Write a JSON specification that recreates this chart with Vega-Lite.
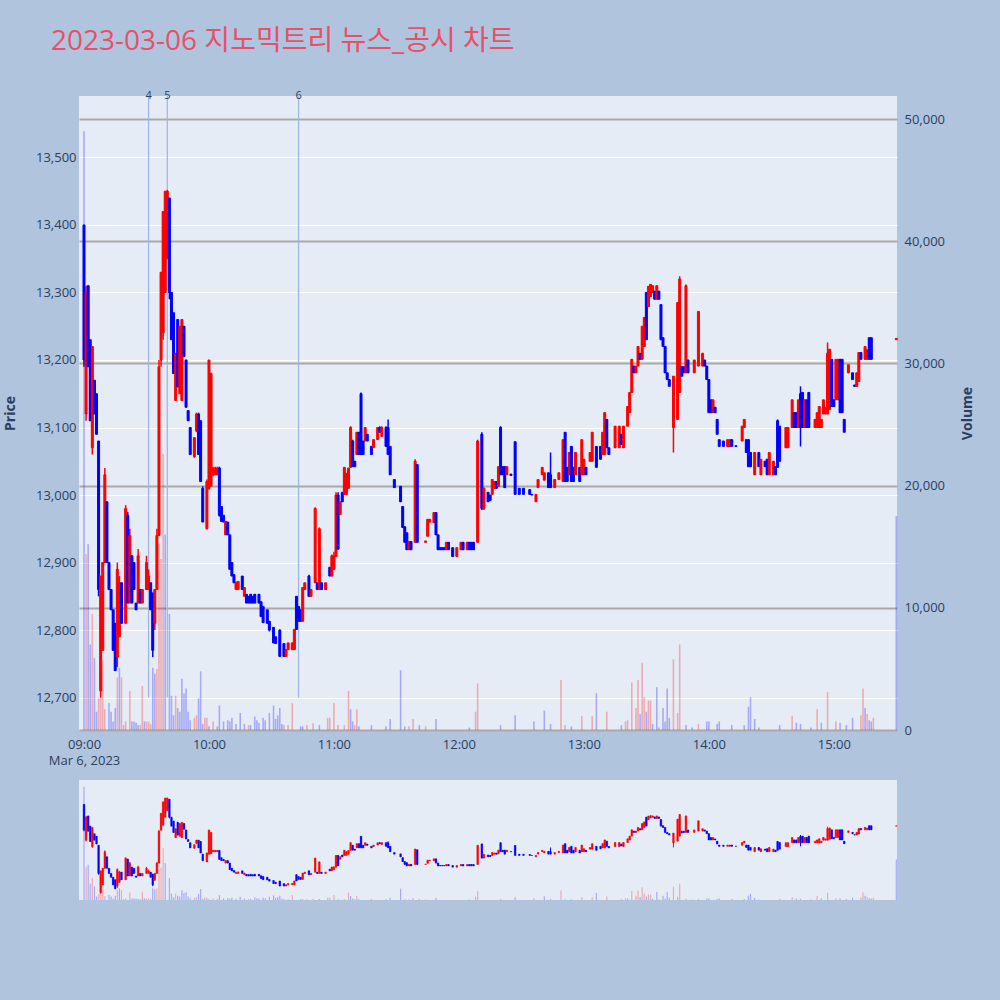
{
"$schema":"https://vega.github.io/schema/vega-lite/v6.json",
"background":"#B0C4DE",
"padding":{"left":3,"top":28,"right":26,"bottom":100},
"bounds":"flush",
"spacing":50,
"title":{"text":"2023-03-06 지노믹트리 뉴스_공시 차트","anchor":"start","frame":"group","fontSize":28,"font":"Open Sans, Noto Sans CJK KR","fontWeight":"normal","color":"#E6516A","dx":-28,"offset":34},
"config":{"view":{"stroke":null,"fill":"#E5ECF6"},"scale":{"continuousPadding":0},"font":"Open Sans, Noto Sans CJK KR","axis":{"labelColor":"#2a3f5f","titleColor":"#2a3f5f","labelFont":"Open Sans","titleFont":"Open Sans","domain":false,"ticks":false}},
"datasets":{
"events":[{"t":"2023-03-06T09:31:00","label":"4"},{"t":"2023-03-06T09:40:00","label":"5"},{"t":"2023-03-06T10:43:00","label":"6"}],
"candles":[
{"t":"2023-03-06 09:00","o":13400,"h":13400,"l":13190,"c":13200},
{"t":"2023-03-06 09:01","o":13120,"h":13310,"l":13110,"c":13300},
{"t":"2023-03-06 09:02","o":13310,"h":13310,"l":13190,"c":13190},
{"t":"2023-03-06 09:03","o":13230,"h":13230,"l":13110,"c":13110},
{"t":"2023-03-06 09:04","o":13070,"h":13220,"l":13060,"c":13220},
{"t":"2023-03-06 09:05","o":13170,"h":13170,"l":13120,"c":13120},
{"t":"2023-03-06 09:06","o":13150,"h":13150,"l":13090,"c":13090},
{"t":"2023-03-06 09:07","o":13080,"h":13080,"l":12850,"c":12860},
{"t":"2023-03-06 09:08","o":12710,"h":12880,"l":12700,"c":12880},
{"t":"2023-03-06 09:09","o":12770,"h":12900,"l":12770,"c":12900},
{"t":"2023-03-06 09:10","o":12900,"h":13040,"l":12900,"c":13030},
{"t":"2023-03-06 09:11","o":12990,"h":12990,"l":12900,"c":12900},
{"t":"2023-03-06 09:12","o":12900,"h":12900,"l":12860,"c":12860},
{"t":"2023-03-06 09:13","o":12860,"h":12860,"l":12830,"c":12830},
{"t":"2023-03-06 09:14","o":12830,"h":12830,"l":12770,"c":12770},
{"t":"2023-03-06 09:15","o":12810,"h":12810,"l":12740,"c":12740},
{"t":"2023-03-06 09:16","o":12760,"h":12900,"l":12745,"c":12890},
{"t":"2023-03-06 09:17","o":12790,"h":12880,"l":12790,"c":12870},
{"t":"2023-03-06 09:18","o":12870,"h":12870,"l":12810,"c":12810},
{"t":"2023-03-06 09:20","o":12810,"h":12985,"l":12810,"c":12980},
{"t":"2023-03-06 09:21","o":12970,"h":12975,"l":12840,"c":12840},
{"t":"2023-03-06 09:22","o":12840,"h":12950,"l":12840,"c":12940},
{"t":"2023-03-06 09:23","o":12910,"h":12910,"l":12840,"c":12840},
{"t":"2023-03-06 09:24","o":12900,"h":12900,"l":12860,"c":12860},
{"t":"2023-03-06 09:25","o":12840,"h":12840,"l":12830,"c":12830},
{"t":"2023-03-06 09:26","o":12840,"h":12920,"l":12840,"c":12910},
{"t":"2023-03-06 09:27","o":12860,"h":12860,"l":12840,"c":12840},
{"t":"2023-03-06 09:28","o":12840,"h":12860,"l":12840,"c":12860},
{"t":"2023-03-06 09:30","o":12860,"h":12910,"l":12860,"c":12900},
{"t":"2023-03-06 09:31","o":12860,"h":12890,"l":12860,"c":12880},
{"t":"2023-03-06 09:32","o":12870,"h":12870,"l":12830,"c":12830},
{"t":"2023-03-06 09:33","o":12855,"h":12855,"l":12760,"c":12770},
{"t":"2023-03-06 09:34","o":12810,"h":12860,"l":12800,"c":12860},
{"t":"2023-03-06 09:35","o":12860,"h":12950,"l":12860,"c":12940},
{"t":"2023-03-06 09:36","o":12940,"h":13200,"l":12940,"c":13190},
{"t":"2023-03-06 09:37","o":13200,"h":13330,"l":13190,"c":13330},
{"t":"2023-03-06 09:38","o":13240,"h":13420,"l":13230,"c":13420},
{"t":"2023-03-06 09:39","o":13300,"h":13450,"l":13300,"c":13450},
{"t":"2023-03-06 09:40","o":13350,"h":13452,"l":13350,"c":13450},
{"t":"2023-03-06 09:41","o":13440,"h":13440,"l":13290,"c":13300},
{"t":"2023-03-06 09:42","o":13300,"h":13300,"l":13230,"c":13230},
{"t":"2023-03-06 09:43","o":13270,"h":13270,"l":13180,"c":13180},
{"t":"2023-03-06 09:44","o":13140,"h":13210,"l":13140,"c":13210},
{"t":"2023-03-06 09:45","o":13260,"h":13260,"l":13160,"c":13160},
{"t":"2023-03-06 09:46","o":13150,"h":13250,"l":13150,"c":13250},
{"t":"2023-03-06 09:47","o":13140,"h":13260,"l":13140,"c":13260},
{"t":"2023-03-06 09:48","o":13250,"h":13250,"l":13205,"c":13205},
{"t":"2023-03-06 09:49","o":13200,"h":13200,"l":13130,"c":13130},
{"t":"2023-03-06 09:50","o":13125,"h":13125,"l":13110,"c":13110},
{"t":"2023-03-06 09:51","o":13100,"h":13100,"l":13060,"c":13060},
{"t":"2023-03-06 09:53","o":13057,"h":13085,"l":13055,"c":13085},
{"t":"2023-03-06 09:54","o":13095,"h":13122,"l":13093,"c":13120},
{"t":"2023-03-06 09:55","o":13120,"h":13122,"l":13060,"c":13060},
{"t":"2023-03-06 09:56","o":13110,"h":13110,"l":13020,"c":13020},
{"t":"2023-03-06 09:57","o":13010,"h":13013,"l":12960,"c":12960},
{"t":"2023-03-06 09:59","o":12950,"h":13023,"l":12949,"c":13020},
{"t":"2023-03-06 10:00","o":13010,"h":13200,"l":13008,"c":13200},
{"t":"2023-03-06 10:01","o":13013,"h":13181,"l":13013,"c":13180},
{"t":"2023-03-06 10:02","o":13030,"h":13042,"l":13028,"c":13040},
{"t":"2023-03-06 10:03","o":13030,"h":13042,"l":13030,"c":13040},
{"t":"2023-03-06 10:04","o":13030,"h":13042,"l":13030,"c":13040},
{"t":"2023-03-06 10:05","o":13040,"h":13042,"l":12968,"c":12970},
{"t":"2023-03-06 10:06","o":12983,"h":12983,"l":12961,"c":12961},
{"t":"2023-03-06 10:07","o":12970,"h":12970,"l":12960,"c":12960},
{"t":"2023-03-06 10:08","o":12941,"h":12961,"l":12941,"c":12961},
{"t":"2023-03-06 10:09","o":12960,"h":12960,"l":12941,"c":12941},
{"t":"2023-03-06 10:10","o":12941,"h":12941,"l":12890,"c":12890},
{"t":"2023-03-06 10:11","o":12900,"h":12900,"l":12880,"c":12880},
{"t":"2023-03-06 10:12","o":12882,"h":12882,"l":12870,"c":12870},
{"t":"2023-03-06 10:13","o":12860,"h":12872,"l":12860,"c":12870},
{"t":"2023-03-06 10:14","o":12860,"h":12872,"l":12860,"c":12872},
{"t":"2023-03-06 10:16","o":12880,"h":12880,"l":12860,"c":12860},
{"t":"2023-03-06 10:17","o":12850,"h":12863,"l":12850,"c":12863},
{"t":"2023-03-06 10:18","o":12853,"h":12853,"l":12840,"c":12840},
{"t":"2023-03-06 10:19","o":12850,"h":12850,"l":12840,"c":12840},
{"t":"2023-03-06 10:20","o":12853,"h":12853,"l":12840,"c":12840},
{"t":"2023-03-06 10:21","o":12850,"h":12850,"l":12840,"c":12840},
{"t":"2023-03-06 10:22","o":12853,"h":12853,"l":12840,"c":12840},
{"t":"2023-03-06 10:24","o":12853,"h":12853,"l":12840,"c":12840},
{"t":"2023-03-06 10:25","o":12842,"h":12842,"l":12820,"c":12820},
{"t":"2023-03-06 10:26","o":12835,"h":12835,"l":12811,"c":12811},
{"t":"2023-03-06 10:28","o":12830,"h":12830,"l":12810,"c":12810},
{"t":"2023-03-06 10:29","o":12813,"h":12813,"l":12798,"c":12800},
{"t":"2023-03-06 10:31","o":12804,"h":12804,"l":12781,"c":12781},
{"t":"2023-03-06 10:32","o":12790,"h":12790,"l":12780,"c":12780},
{"t":"2023-03-06 10:34","o":12800,"h":12801,"l":12761,"c":12761},
{"t":"2023-03-06 10:36","o":12780,"h":12780,"l":12761,"c":12761},
{"t":"2023-03-06 10:37","o":12761,"h":12771,"l":12761,"c":12771},
{"t":"2023-03-06 10:38","o":12771,"h":12781,"l":12771,"c":12781},
{"t":"2023-03-06 10:40","o":12771,"h":12781,"l":12771,"c":12781},
{"t":"2023-03-06 10:41","o":12771,"h":12801,"l":12771,"c":12801},
{"t":"2023-03-06 10:42","o":12850,"h":12850,"l":12801,"c":12801},
{"t":"2023-03-06 10:43","o":12835,"h":12835,"l":12813,"c":12813},
{"t":"2023-03-06 10:44","o":12830,"h":12830,"l":12813,"c":12813},
{"t":"2023-03-06 10:45","o":12813,"h":12863,"l":12813,"c":12863},
{"t":"2023-03-06 10:46","o":12860,"h":12870,"l":12860,"c":12870},
{"t":"2023-03-06 10:48","o":12880,"h":12882,"l":12850,"c":12850},
{"t":"2023-03-06 10:49","o":12850,"h":12860,"l":12850,"c":12860},
{"t":"2023-03-06 10:51","o":12870,"h":12982,"l":12870,"c":12980},
{"t":"2023-03-06 10:52","o":12870,"h":12870,"l":12860,"c":12860},
{"t":"2023-03-06 10:53","o":12860,"h":12952,"l":12860,"c":12950},
{"t":"2023-03-06 10:54","o":12870,"h":12870,"l":12860,"c":12860},
{"t":"2023-03-06 10:56","o":12860,"h":12870,"l":12860,"c":12870},
{"t":"2023-03-06 10:58","o":12893,"h":12893,"l":12880,"c":12880},
{"t":"2023-03-06 10:59","o":12880,"h":12912,"l":12880,"c":12910},
{"t":"2023-03-06 11:00","o":12890,"h":12916,"l":12890,"c":12910},
{"t":"2023-03-06 11:01","o":12909,"h":13004,"l":12909,"c":13000},
{"t":"2023-03-06 11:02","o":13000,"h":13004,"l":12919,"c":12920},
{"t":"2023-03-06 11:03","o":12971,"h":12990,"l":12971,"c":12990},
{"t":"2023-03-06 11:04","o":13004,"h":13004,"l":12990,"c":12990},
{"t":"2023-03-06 11:05","o":13001,"h":13041,"l":13001,"c":13041},
{"t":"2023-03-06 11:06","o":13001,"h":13033,"l":13001,"c":13030},
{"t":"2023-03-06 11:07","o":13010,"h":13040,"l":13010,"c":13040},
{"t":"2023-03-06 11:08","o":13041,"h":13102,"l":13041,"c":13100},
{"t":"2023-03-06 11:09","o":13080,"h":13082,"l":13042,"c":13042},
{"t":"2023-03-06 11:10","o":13050,"h":13050,"l":13042,"c":13042},
{"t":"2023-03-06 11:11","o":13060,"h":13093,"l":13060,"c":13093},
{"t":"2023-03-06 11:12","o":13093,"h":13093,"l":13060,"c":13060},
{"t":"2023-03-06 11:13","o":13150,"h":13152,"l":13060,"c":13060},
{"t":"2023-03-06 11:14","o":13080,"h":13080,"l":13060,"c":13060},
{"t":"2023-03-06 11:15","o":13080,"h":13100,"l":13080,"c":13100},
{"t":"2023-03-06 11:16","o":13090,"h":13090,"l":13080,"c":13080},
{"t":"2023-03-06 11:18","o":13072,"h":13072,"l":13060,"c":13060},
{"t":"2023-03-06 11:19","o":13070,"h":13082,"l":13070,"c":13082},
{"t":"2023-03-06 11:21","o":13082,"h":13100,"l":13082,"c":13100},
{"t":"2023-03-06 11:22","o":13100,"h":13102,"l":13093,"c":13093},
{"t":"2023-03-06 11:23","o":13087,"h":13102,"l":13087,"c":13100},
{"t":"2023-03-06 11:25","o":13100,"h":13102,"l":13072,"c":13072},
{"t":"2023-03-06 11:26","o":13100,"h":13112,"l":13060,"c":13060},
{"t":"2023-03-06 11:27","o":13072,"h":13072,"l":13030,"c":13030},
{"t":"2023-03-06 11:29","o":13023,"h":13023,"l":13011,"c":13011},
{"t":"2023-03-06 11:32","o":13013,"h":13013,"l":12990,"c":12990},
{"t":"2023-03-06 11:33","o":12983,"h":12983,"l":12952,"c":12952},
{"t":"2023-03-06 11:34","o":12953,"h":12953,"l":12930,"c":12930},
{"t":"2023-03-06 11:35","o":12944,"h":12944,"l":12919,"c":12919},
{"t":"2023-03-06 11:36","o":12919,"h":12931,"l":12919,"c":12931},
{"t":"2023-03-06 11:37","o":12931,"h":12931,"l":12919,"c":12919},
{"t":"2023-03-06 11:39","o":12930,"h":13053,"l":12930,"c":13050},
{"t":"2023-03-06 11:40","o":13045,"h":13045,"l":12930,"c":12930},
{"t":"2023-03-06 11:44","o":12930,"h":12932,"l":12930,"c":12932},
{"t":"2023-03-06 11:45","o":12939,"h":12964,"l":12939,"c":12964},
{"t":"2023-03-06 11:46","o":12960,"h":12964,"l":12960,"c":12964},
{"t":"2023-03-06 11:48","o":12959,"h":12974,"l":12959,"c":12974},
{"t":"2023-03-06 11:49","o":12974,"h":12974,"l":12941,"c":12941},
{"t":"2023-03-06 11:50","o":12941,"h":12941,"l":12919,"c":12919},
{"t":"2023-03-06 11:51","o":12922,"h":12922,"l":12919,"c":12919},
{"t":"2023-03-06 11:52","o":12922,"h":12922,"l":12919,"c":12919},
{"t":"2023-03-06 11:53","o":12922,"h":12922,"l":12919,"c":12919},
{"t":"2023-03-06 11:54","o":12919,"h":12930,"l":12919,"c":12930},
{"t":"2023-03-06 11:55","o":12930,"h":12930,"l":12919,"c":12919},
{"t":"2023-03-06 11:57","o":12922,"h":12922,"l":12909,"c":12909},
{"t":"2023-03-06 11:59","o":12909,"h":12922,"l":12909,"c":12922},
{"t":"2023-03-06 12:01","o":12919,"h":12930,"l":12919,"c":12930},
{"t":"2023-03-06 12:02","o":12930,"h":12930,"l":12919,"c":12919},
{"t":"2023-03-06 12:04","o":12919,"h":12930,"l":12919,"c":12930},
{"t":"2023-03-06 12:05","o":12930,"h":12930,"l":12919,"c":12919},
{"t":"2023-03-06 12:06","o":12930,"h":12930,"l":12919,"c":12919},
{"t":"2023-03-06 12:07","o":12930,"h":12930,"l":12919,"c":12919},
{"t":"2023-03-06 12:09","o":12930,"h":13082,"l":12930,"c":13080},
{"t":"2023-03-06 12:11","o":13090,"h":13093,"l":12978,"c":12980},
{"t":"2023-03-06 12:12","o":12980,"h":13011,"l":12978,"c":13010},
{"t":"2023-03-06 12:14","o":13004,"h":13004,"l":12990,"c":12990},
{"t":"2023-03-06 12:15","o":13000,"h":13000,"l":12992,"c":12992},
{"t":"2023-03-06 12:16","o":13001,"h":13023,"l":13001,"c":13023},
{"t":"2023-03-06 12:17","o":13010,"h":13020,"l":13010,"c":13020},
{"t":"2023-03-06 12:18","o":13020,"h":13020,"l":13010,"c":13010},
{"t":"2023-03-06 12:19","o":13013,"h":13042,"l":13013,"c":13042},
{"t":"2023-03-06 12:20","o":13100,"h":13102,"l":13030,"c":13030},
{"t":"2023-03-06 12:21","o":13042,"h":13042,"l":13030,"c":13030},
{"t":"2023-03-06 12:22","o":13042,"h":13042,"l":13011,"c":13011},
{"t":"2023-03-06 12:23","o":13030,"h":13042,"l":13030,"c":13042},
{"t":"2023-03-06 12:25","o":13031,"h":13031,"l":13029,"c":13029},
{"t":"2023-03-06 12:27","o":13079,"h":13079,"l":13001,"c":13001},
{"t":"2023-03-06 12:29","o":13010,"h":13010,"l":13001,"c":13001},
{"t":"2023-03-06 12:31","o":13010,"h":13010,"l":13001,"c":13001},
{"t":"2023-03-06 12:34","o":13008,"h":13008,"l":13001,"c":13001},
{"t":"2023-03-06 12:35","o":13001,"h":13001,"l":13000,"c":13000},
{"t":"2023-03-06 12:37","o":12990,"h":13001,"l":12990,"c":13001},
{"t":"2023-03-06 12:38","o":13011,"h":13023,"l":13011,"c":13023},
{"t":"2023-03-06 12:40","o":13030,"h":13041,"l":13030,"c":13041},
{"t":"2023-03-06 12:41","o":13022,"h":13033,"l":13022,"c":13033},
{"t":"2023-03-06 12:43","o":13033,"h":13033,"l":13011,"c":13011},
{"t":"2023-03-06 12:44","o":13030,"h":13063,"l":13011,"c":13011},
{"t":"2023-03-06 12:46","o":13011,"h":13023,"l":13011,"c":13023},
{"t":"2023-03-06 12:48","o":13023,"h":13033,"l":13023,"c":13033},
{"t":"2023-03-06 12:50","o":13020,"h":13082,"l":13020,"c":13082},
{"t":"2023-03-06 12:51","o":13093,"h":13093,"l":13020,"c":13020},
{"t":"2023-03-06 12:52","o":13041,"h":13041,"l":13020,"c":13020},
{"t":"2023-03-06 12:53","o":13030,"h":13063,"l":13030,"c":13063},
{"t":"2023-03-06 12:54","o":13072,"h":13072,"l":13020,"c":13020},
{"t":"2023-03-06 12:55","o":13041,"h":13041,"l":13020,"c":13020},
{"t":"2023-03-06 12:56","o":13030,"h":13063,"l":13030,"c":13063},
{"t":"2023-03-06 12:58","o":13041,"h":13041,"l":13020,"c":13020},
{"t":"2023-03-06 12:59","o":13030,"h":13082,"l":13030,"c":13082},
{"t":"2023-03-06 13:00","o":13030,"h":13053,"l":13030,"c":13053},
{"t":"2023-03-06 13:01","o":13041,"h":13041,"l":13030,"c":13030},
{"t":"2023-03-06 13:03","o":13050,"h":13063,"l":13050,"c":13063},
{"t":"2023-03-06 13:04","o":13050,"h":13093,"l":13050,"c":13093},
{"t":"2023-03-06 13:06","o":13072,"h":13072,"l":13041,"c":13041},
{"t":"2023-03-06 13:08","o":13072,"h":13072,"l":13053,"c":13053},
{"t":"2023-03-06 13:09","o":13060,"h":13093,"l":13060,"c":13093},
{"t":"2023-03-06 13:10","o":13060,"h":13122,"l":13060,"c":13122},
{"t":"2023-03-06 13:11","o":13112,"h":13112,"l":13070,"c":13070},
{"t":"2023-03-06 13:12","o":13070,"h":13070,"l":13060,"c":13060},
{"t":"2023-03-06 13:15","o":13070,"h":13102,"l":13070,"c":13102},
{"t":"2023-03-06 13:17","o":13070,"h":13102,"l":13070,"c":13102},
{"t":"2023-03-06 13:18","o":13090,"h":13090,"l":13075,"c":13075},
{"t":"2023-03-06 13:19","o":13070,"h":13102,"l":13070,"c":13102},
{"t":"2023-03-06 13:21","o":13102,"h":13131,"l":13102,"c":13131},
{"t":"2023-03-06 13:22","o":13122,"h":13152,"l":13122,"c":13152},
{"t":"2023-03-06 13:23","o":13152,"h":13201,"l":13152,"c":13201},
{"t":"2023-03-06 13:24","o":13191,"h":13191,"l":13181,"c":13181},
{"t":"2023-03-06 13:25","o":13181,"h":13191,"l":13181,"c":13191},
{"t":"2023-03-06 13:26","o":13191,"h":13220,"l":13191,"c":13220},
{"t":"2023-03-06 13:27","o":13210,"h":13210,"l":13201,"c":13201},
{"t":"2023-03-06 13:28","o":13201,"h":13250,"l":13201,"c":13250},
{"t":"2023-03-06 13:29","o":13220,"h":13263,"l":13220,"c":13263},
{"t":"2023-03-06 13:30","o":13300,"h":13300,"l":13230,"c":13230},
{"t":"2023-03-06 13:31","o":13279,"h":13309,"l":13279,"c":13309},
{"t":"2023-03-06 13:32","o":13294,"h":13312,"l":13294,"c":13312},
{"t":"2023-03-06 13:33","o":13300,"h":13310,"l":13300,"c":13310},
{"t":"2023-03-06 13:34","o":13302,"h":13302,"l":13290,"c":13290},
{"t":"2023-03-06 13:35","o":13290,"h":13310,"l":13290,"c":13310},
{"t":"2023-03-06 13:36","o":13302,"h":13302,"l":13290,"c":13290},
{"t":"2023-03-06 13:37","o":13282,"h":13282,"l":13230,"c":13230},
{"t":"2023-03-06 13:38","o":13233,"h":13233,"l":13220,"c":13220},
{"t":"2023-03-06 13:39","o":13220,"h":13220,"l":13181,"c":13181},
{"t":"2023-03-06 13:40","o":13181,"h":13181,"l":13171,"c":13171},
{"t":"2023-03-06 13:41","o":13171,"h":13171,"l":13161,"c":13161},
{"t":"2023-03-06 13:43","o":13100,"h":13176,"l":13063,"c":13176},
{"t":"2023-03-06 13:45","o":13112,"h":13285,"l":13112,"c":13285},
{"t":"2023-03-06 13:46","o":13152,"h":13324,"l":13152,"c":13320},
{"t":"2023-03-06 13:47","o":13190,"h":13190,"l":13176,"c":13176},
{"t":"2023-03-06 13:48","o":13190,"h":13190,"l":13181,"c":13181},
{"t":"2023-03-06 13:49","o":13181,"h":13312,"l":13181,"c":13310},
{"t":"2023-03-06 13:50","o":13200,"h":13200,"l":13181,"c":13181},
{"t":"2023-03-06 13:53","o":13181,"h":13200,"l":13181,"c":13200},
{"t":"2023-03-06 13:55","o":13191,"h":13272,"l":13191,"c":13272},
{"t":"2023-03-06 13:57","o":13191,"h":13210,"l":13191,"c":13210},
{"t":"2023-03-06 13:58","o":13200,"h":13200,"l":13191,"c":13191},
{"t":"2023-03-06 13:59","o":13191,"h":13191,"l":13171,"c":13171},
{"t":"2023-03-06 14:00","o":13171,"h":13171,"l":13122,"c":13122},
{"t":"2023-03-06 14:01","o":13141,"h":13141,"l":13122,"c":13122},
{"t":"2023-03-06 14:02","o":13122,"h":13141,"l":13122,"c":13141},
{"t":"2023-03-06 14:03","o":13130,"h":13130,"l":13122,"c":13122},
{"t":"2023-03-06 14:04","o":13112,"h":13112,"l":13090,"c":13090},
{"t":"2023-03-06 14:05","o":13082,"h":13082,"l":13072,"c":13072},
{"t":"2023-03-06 14:07","o":13080,"h":13080,"l":13072,"c":13072},
{"t":"2023-03-06 14:09","o":13072,"h":13082,"l":13072,"c":13082},
{"t":"2023-03-06 14:10","o":13072,"h":13082,"l":13072,"c":13082},
{"t":"2023-03-06 14:11","o":13082,"h":13082,"l":13072,"c":13072},
{"t":"2023-03-06 14:13","o":13073,"h":13073,"l":13072,"c":13072},
{"t":"2023-03-06 14:16","o":13080,"h":13102,"l":13080,"c":13102},
{"t":"2023-03-06 14:17","o":13100,"h":13112,"l":13100,"c":13112},
{"t":"2023-03-06 14:18","o":13082,"h":13082,"l":13063,"c":13063},
{"t":"2023-03-06 14:19","o":13082,"h":13082,"l":13042,"c":13042},
{"t":"2023-03-06 14:20","o":13063,"h":13063,"l":13042,"c":13042},
{"t":"2023-03-06 14:22","o":13030,"h":13063,"l":13030,"c":13063},
{"t":"2023-03-06 14:24","o":13063,"h":13063,"l":13042,"c":13042},
{"t":"2023-03-06 14:25","o":13030,"h":13053,"l":13030,"c":13053},
{"t":"2023-03-06 14:27","o":13050,"h":13050,"l":13042,"c":13042},
{"t":"2023-03-06 14:28","o":13053,"h":13053,"l":13030,"c":13030},
{"t":"2023-03-06 14:29","o":13030,"h":13063,"l":13030,"c":13063},
{"t":"2023-03-06 14:31","o":13030,"h":13050,"l":13030,"c":13050},
{"t":"2023-03-06 14:32","o":13042,"h":13042,"l":13030,"c":13030},
{"t":"2023-03-06 14:33","o":13110,"h":13112,"l":13041,"c":13041},
{"t":"2023-03-06 14:34","o":13102,"h":13102,"l":13050,"c":13050},
{"t":"2023-03-06 14:37","o":13070,"h":13100,"l":13070,"c":13100},
{"t":"2023-03-06 14:38","o":13070,"h":13100,"l":13070,"c":13100},
{"t":"2023-03-06 14:40","o":13100,"h":13141,"l":13100,"c":13141},
{"t":"2023-03-06 14:41","o":13122,"h":13122,"l":13100,"c":13100},
{"t":"2023-03-06 14:42","o":13122,"h":13122,"l":13100,"c":13100},
{"t":"2023-03-06 14:43","o":13100,"h":13141,"l":13100,"c":13141},
{"t":"2023-03-06 14:44","o":13150,"h":13161,"l":13072,"c":13100},
{"t":"2023-03-06 14:45","o":13152,"h":13152,"l":13100,"c":13100},
{"t":"2023-03-06 14:46","o":13100,"h":13141,"l":13100,"c":13141},
{"t":"2023-03-06 14:47","o":13141,"h":13141,"l":13100,"c":13100},
{"t":"2023-03-06 14:48","o":13152,"h":13152,"l":13100,"c":13100},
{"t":"2023-03-06 14:51","o":13100,"h":13112,"l":13100,"c":13112},
{"t":"2023-03-06 14:52","o":13100,"h":13122,"l":13100,"c":13122},
{"t":"2023-03-06 14:53","o":13100,"h":13131,"l":13100,"c":13131},
{"t":"2023-03-06 14:54","o":13100,"h":13112,"l":13100,"c":13112},
{"t":"2023-03-06 14:55","o":13120,"h":13141,"l":13120,"c":13141},
{"t":"2023-03-06 14:56","o":13120,"h":13130,"l":13120,"c":13130},
{"t":"2023-03-06 14:57","o":13120,"h":13226,"l":13120,"c":13210},
{"t":"2023-03-06 14:58","o":13127,"h":13216,"l":13127,"c":13216},
{"t":"2023-03-06 14:59","o":13201,"h":13201,"l":13131,"c":13131},
{"t":"2023-03-06 15:00","o":13141,"h":13141,"l":13131,"c":13131},
{"t":"2023-03-06 15:01","o":13141,"h":13201,"l":13141,"c":13201},
{"t":"2023-03-06 15:02","o":13141,"h":13201,"l":13141,"c":13201},
{"t":"2023-03-06 15:03","o":13201,"h":13201,"l":13122,"c":13122},
{"t":"2023-03-06 15:04","o":13201,"h":13201,"l":13122,"c":13122},
{"t":"2023-03-06 15:05","o":13112,"h":13112,"l":13093,"c":13093},
{"t":"2023-03-06 15:07","o":13181,"h":13193,"l":13181,"c":13193},
{"t":"2023-03-06 15:09","o":13181,"h":13181,"l":13171,"c":13171},
{"t":"2023-03-06 15:10","o":13163,"h":13163,"l":13161,"c":13161},
{"t":"2023-03-06 15:11","o":13161,"h":13181,"l":13161,"c":13181},
{"t":"2023-03-06 15:12","o":13168,"h":13211,"l":13168,"c":13211},
{"t":"2023-03-06 15:13","o":13211,"h":13211,"l":13201,"c":13201},
{"t":"2023-03-06 15:15","o":13201,"h":13220,"l":13201,"c":13220},
{"t":"2023-03-06 15:16","o":13201,"h":13215,"l":13201,"c":13215},
{"t":"2023-03-06 15:17","o":13233,"h":13233,"l":13201,"c":13201},
{"t":"2023-03-06 15:18","o":13233,"h":13233,"l":13201,"c":13201},
{"t":"2023-03-06 15:30","o":13230,"h":13232,"l":13230,"c":13232}
],
"volume":[
{"t":"2023-03-06 09:00","v":49000,"dir":"down"},
{"t":"2023-03-06 09:01","v":14400,"dir":"up"},
{"t":"2023-03-06 09:02","v":15200,"dir":"down"},
{"t":"2023-03-06 09:03","v":7000,"dir":"down"},
{"t":"2023-03-06 09:04","v":9500,"dir":"up"},
{"t":"2023-03-06 09:05","v":5900,"dir":"down"},
{"t":"2023-03-06 09:06","v":1500,"dir":"down"},
{"t":"2023-03-06 09:07","v":2600,"dir":"up"},
{"t":"2023-03-06 09:08","v":2600,"dir":"up"},
{"t":"2023-03-06 09:09","v":5700,"dir":"up"},
{"t":"2023-03-06 09:10","v":1700,"dir":"up"},
{"t":"2023-03-06 09:12","v":2200,"dir":"down"},
{"t":"2023-03-06 09:13","v":1500,"dir":"down"},
{"t":"2023-03-06 09:14","v":700,"dir":"down"},
{"t":"2023-03-06 09:15","v":1800,"dir":"down"},
{"t":"2023-03-06 09:16","v":4300,"dir":"up"},
{"t":"2023-03-06 09:17","v":5100,"dir":"down"},
{"t":"2023-03-06 09:18","v":4300,"dir":"up"},
{"t":"2023-03-06 09:19","v":400,"dir":"up"},
{"t":"2023-03-06 09:20","v":700,"dir":"up"},
{"t":"2023-03-06 09:22","v":3200,"dir":"up"},
{"t":"2023-03-06 09:23","v":700,"dir":"down"},
{"t":"2023-03-06 09:24","v":700,"dir":"down"},
{"t":"2023-03-06 09:25","v":600,"dir":"down"},
{"t":"2023-03-06 09:26","v":400,"dir":"down"},
{"t":"2023-03-06 09:27","v":400,"dir":"up"},
{"t":"2023-03-06 09:28","v":3600,"dir":"up"},
{"t":"2023-03-06 09:29","v":700,"dir":"down"},
{"t":"2023-03-06 09:30","v":700,"dir":"up"},
{"t":"2023-03-06 09:31","v":700,"dir":"up"},
{"t":"2023-03-06 09:32","v":500,"dir":"up"},
{"t":"2023-03-06 09:33","v":5100,"dir":"down"},
{"t":"2023-03-06 09:34","v":4600,"dir":"down"},
{"t":"2023-03-06 09:35","v":5000,"dir":"up"},
{"t":"2023-03-06 09:36","v":15200,"dir":"up"},
{"t":"2023-03-06 09:37","v":14000,"dir":"up"},
{"t":"2023-03-06 09:38","v":22600,"dir":"up"},
{"t":"2023-03-06 09:39","v":16000,"dir":"down"},
{"t":"2023-03-06 09:41","v":9500,"dir":"down"},
{"t":"2023-03-06 09:42","v":2800,"dir":"down"},
{"t":"2023-03-06 09:43","v":1200,"dir":"down"},
{"t":"2023-03-06 09:44","v":2800,"dir":"up"},
{"t":"2023-03-06 09:45","v":1800,"dir":"down"},
{"t":"2023-03-06 09:46","v":1500,"dir":"down"},
{"t":"2023-03-06 09:47","v":4200,"dir":"down"},
{"t":"2023-03-06 09:48","v":3000,"dir":"down"},
{"t":"2023-03-06 09:49","v":3400,"dir":"down"},
{"t":"2023-03-06 09:50","v":1500,"dir":"down"},
{"t":"2023-03-06 09:51","v":800,"dir":"down"},
{"t":"2023-03-06 09:53","v":1000,"dir":"up"},
{"t":"2023-03-06 09:54","v":1200,"dir":"up"},
{"t":"2023-03-06 09:55","v":2600,"dir":"down"},
{"t":"2023-03-06 09:56","v":4800,"dir":"down"},
{"t":"2023-03-06 09:57","v":500,"dir":"down"},
{"t":"2023-03-06 09:58","v":1000,"dir":"up"},
{"t":"2023-03-06 09:59","v":1000,"dir":"up"},
{"t":"2023-03-06 10:00","v":300,"dir":"down"},
{"t":"2023-03-06 10:02","v":700,"dir":"up"},
{"t":"2023-03-06 10:04","v":300,"dir":"down"},
{"t":"2023-03-06 10:05","v":2000,"dir":"down"},
{"t":"2023-03-06 10:07","v":700,"dir":"down"},
{"t":"2023-03-06 10:09","v":800,"dir":"down"},
{"t":"2023-03-06 10:10","v":700,"dir":"down"},
{"t":"2023-03-06 10:11","v":1000,"dir":"down"},
{"t":"2023-03-06 10:13","v":500,"dir":"down"},
{"t":"2023-03-06 10:15","v":1400,"dir":"down"},
{"t":"2023-03-06 10:17","v":500,"dir":"down"},
{"t":"2023-03-06 10:19","v":400,"dir":"up"},
{"t":"2023-03-06 10:20","v":400,"dir":"down"},
{"t":"2023-03-06 10:22","v":1100,"dir":"down"},
{"t":"2023-03-06 10:23","v":800,"dir":"down"},
{"t":"2023-03-06 10:24","v":600,"dir":"down"},
{"t":"2023-03-06 10:26","v":1000,"dir":"down"},
{"t":"2023-03-06 10:27","v":800,"dir":"down"},
{"t":"2023-03-06 10:29","v":1400,"dir":"down"},
{"t":"2023-03-06 10:31","v":2000,"dir":"down"},
{"t":"2023-03-06 10:32","v":900,"dir":"down"},
{"t":"2023-03-06 10:33","v":1200,"dir":"down"},
{"t":"2023-03-06 10:34","v":1800,"dir":"down"},
{"t":"2023-03-06 10:35","v":500,"dir":"down"},
{"t":"2023-03-06 10:36","v":400,"dir":"up"},
{"t":"2023-03-06 10:38","v":400,"dir":"up"},
{"t":"2023-03-06 10:40","v":2200,"dir":"up"},
{"t":"2023-03-06 10:44","v":300,"dir":"down"},
{"t":"2023-03-06 10:45","v":300,"dir":"down"},
{"t":"2023-03-06 10:47","v":400,"dir":"up"},
{"t":"2023-03-06 10:50","v":550,"dir":"up"},
{"t":"2023-03-06 10:53","v":400,"dir":"down"},
{"t":"2023-03-06 10:57","v":1000,"dir":"up"},
{"t":"2023-03-06 10:58","v":1000,"dir":"up"},
{"t":"2023-03-06 11:00","v":2200,"dir":"up"},
{"t":"2023-03-06 11:02","v":400,"dir":"up"},
{"t":"2023-03-06 11:05","v":400,"dir":"up"},
{"t":"2023-03-06 11:07","v":3200,"dir":"up"},
{"t":"2023-03-06 11:08","v":1700,"dir":"down"},
{"t":"2023-03-06 11:09","v":700,"dir":"down"},
{"t":"2023-03-06 11:10","v":400,"dir":"up"},
{"t":"2023-03-06 11:11","v":1700,"dir":"up"},
{"t":"2023-03-06 11:12","v":300,"dir":"down"},
{"t":"2023-03-06 11:18","v":400,"dir":"down"},
{"t":"2023-03-06 11:25","v":300,"dir":"down"},
{"t":"2023-03-06 11:27","v":900,"dir":"down"},
{"t":"2023-03-06 11:32","v":4900,"dir":"down"},
{"t":"2023-03-06 11:34","v":300,"dir":"down"},
{"t":"2023-03-06 11:36","v":300,"dir":"up"},
{"t":"2023-03-06 11:38","v":900,"dir":"up"},
{"t":"2023-03-06 11:41","v":400,"dir":"down"},
{"t":"2023-03-06 11:44","v":300,"dir":"up"},
{"t":"2023-03-06 11:49","v":900,"dir":"down"},
{"t":"2023-03-06 12:05","v":200,"dir":"down"},
{"t":"2023-03-06 12:08","v":1500,"dir":"up"},
{"t":"2023-03-06 12:09","v":3800,"dir":"up"},
{"t":"2023-03-06 12:20","v":400,"dir":"down"},
{"t":"2023-03-06 12:27","v":1200,"dir":"down"},
{"t":"2023-03-06 12:36","v":700,"dir":"down"},
{"t":"2023-03-06 12:41","v":1600,"dir":"down"},
{"t":"2023-03-06 12:44","v":500,"dir":"down"},
{"t":"2023-03-06 12:49","v":4100,"dir":"up"},
{"t":"2023-03-06 12:51","v":400,"dir":"up"},
{"t":"2023-03-06 12:54","v":300,"dir":"down"},
{"t":"2023-03-06 12:59","v":1150,"dir":"up"},
{"t":"2023-03-06 13:04","v":1150,"dir":"up"},
{"t":"2023-03-06 13:06","v":3000,"dir":"down"},
{"t":"2023-03-06 13:11","v":1500,"dir":"up"},
{"t":"2023-03-06 13:18","v":400,"dir":"down"},
{"t":"2023-03-06 13:20","v":700,"dir":"up"},
{"t":"2023-03-06 13:21","v":800,"dir":"up"},
{"t":"2023-03-06 13:23","v":3900,"dir":"up"},
{"t":"2023-03-06 13:25","v":1800,"dir":"up"},
{"t":"2023-03-06 13:26","v":4100,"dir":"up"},
{"t":"2023-03-06 13:27","v":1300,"dir":"down"},
{"t":"2023-03-06 13:28","v":5500,"dir":"up"},
{"t":"2023-03-06 13:29","v":2700,"dir":"up"},
{"t":"2023-03-06 13:30","v":1500,"dir":"down"},
{"t":"2023-03-06 13:31","v":2400,"dir":"up"},
{"t":"2023-03-06 13:32","v":2400,"dir":"up"},
{"t":"2023-03-06 13:33","v":500,"dir":"down"},
{"t":"2023-03-06 13:35","v":3500,"dir":"down"},
{"t":"2023-03-06 13:36","v":200,"dir":"down"},
{"t":"2023-03-06 13:38","v":1800,"dir":"down"},
{"t":"2023-03-06 13:39","v":700,"dir":"down"},
{"t":"2023-03-06 13:40","v":3400,"dir":"down"},
{"t":"2023-03-06 13:41","v":1000,"dir":"down"},
{"t":"2023-03-06 13:43","v":5800,"dir":"up"},
{"t":"2023-03-06 13:45","v":1400,"dir":"up"},
{"t":"2023-03-06 13:46","v":7000,"dir":"up"},
{"t":"2023-03-06 13:49","v":400,"dir":"down"},
{"t":"2023-03-06 13:52","v":200,"dir":"down"},
{"t":"2023-03-06 13:55","v":500,"dir":"up"},
{"t":"2023-03-06 13:59","v":700,"dir":"down"},
{"t":"2023-03-06 14:00","v":700,"dir":"down"},
{"t":"2023-03-06 14:04","v":500,"dir":"down"},
{"t":"2023-03-06 14:05","v":700,"dir":"down"},
{"t":"2023-03-06 14:11","v":400,"dir":"down"},
{"t":"2023-03-06 14:17","v":400,"dir":"down"},
{"t":"2023-03-06 14:19","v":1900,"dir":"down"},
{"t":"2023-03-06 14:20","v":2700,"dir":"down"},
{"t":"2023-03-06 14:22","v":900,"dir":"down"},
{"t":"2023-03-06 14:24","v":200,"dir":"down"},
{"t":"2023-03-06 14:34","v":400,"dir":"down"},
{"t":"2023-03-06 14:40","v":1150,"dir":"up"},
{"t":"2023-03-06 14:42","v":600,"dir":"down"},
{"t":"2023-03-06 14:44","v":500,"dir":"down"},
{"t":"2023-03-06 14:49","v":200,"dir":"down"},
{"t":"2023-03-06 14:52","v":1700,"dir":"up"},
{"t":"2023-03-06 14:54","v":600,"dir":"down"},
{"t":"2023-03-06 14:57","v":3100,"dir":"up"},
{"t":"2023-03-06 15:01","v":700,"dir":"up"},
{"t":"2023-03-06 15:03","v":600,"dir":"down"},
{"t":"2023-03-06 15:06","v":400,"dir":"down"},
{"t":"2023-03-06 15:09","v":1000,"dir":"down"},
{"t":"2023-03-06 15:13","v":1200,"dir":"up"},
{"t":"2023-03-06 15:14","v":3400,"dir":"up"},
{"t":"2023-03-06 15:15","v":1800,"dir":"down"},
{"t":"2023-03-06 15:16","v":1300,"dir":"up"},
{"t":"2023-03-06 15:17","v":800,"dir":"down"},
{"t":"2023-03-06 15:18","v":700,"dir":"down"},
{"t":"2023-03-06 15:19","v":1000,"dir":"up"},
{"t":"2023-03-06 15:30","v":17500,"dir":"down"}
]
},
"vconcat":[
{
"width":818,"height":634,
"layer":[
{
"data":{"name":"volume"},
"mark":{"type":"bar","width":1.6,"opacity":0.28},
"encoding":{
"x":{"field":"t","type":"temporal","scale":{"domain":[{"year":2023,"month":3,"date":6,"hours":8,"minutes":57,"seconds":36},{"year":2023,"month":3,"date":6,"hours":15,"minutes":30,"seconds":20}],"nice":false,"padding":0},
"axis":{"title":null,"grid":false,"values":[{"year":2023,"month":3,"date":6,"hours":9},{"year":2023,"month":3,"date":6,"hours":10},{"year":2023,"month":3,"date":6,"hours":11},{"year":2023,"month":3,"date":6,"hours":12},{"year":2023,"month":3,"date":6,"hours":13},{"year":2023,"month":3,"date":6,"hours":14},{"year":2023,"month":3,"date":6,"hours":15}],"labelExpr":"hours(datum.value) == 9 ? [timeFormat(datum.value, '%H:%M'), timeFormat(datum.value, '%b %-d, %Y')] : timeFormat(datum.value, '%H:%M')","labelFontSize":13,"labelPadding":8,"labelLineHeight":16,"labelFlush":false,"labelOverlap":false}},
"y":{"field":"v","type":"quantitative","scale":{"domain":[0,51885],"nice":false,"zero":true},
"axis":{"orient":"right","title":"Volume","titleAngle":270,"titleFontSize":14,"titleFontWeight":"bold","titlePadding":30,"values":[0,10000,20000,30000,40000,50000],"format":",d","labelFontSize":13,"labelPadding":7,"grid":true,"gridWidth":2,"gridColor":"#A9A9A9"}},
"color":{"field":"dir","type":"nominal","scale":{"domain":["up","down"],"range":["#FF0000","#0000FF"]},"legend":null}
}
},
{
"data":{"name":"events"},
"mark":{"type":"rule","color":"#9FB2EC","strokeWidth":1.2},
"encoding":{
"x":{"field":"t","type":"temporal"},
"y":{"datum":12700,"type":"quantitative","scale":{"domain":[12652,13591],"nice":false,"zero":false},
"axis":{"orient":"left","title":"Price","titleFontSize":14,"titleFontWeight":"bold","titlePadding":18,"values":[12700,12800,12900,13000,13100,13200,13300,13400,13500],"format":",d","labelFontSize":13,"labelPadding":3,"grid":true,"gridColor":"#FFFFFF","gridWidth":1}},
"y2":{"datum":13591}
}
},
{
"data":{"name":"events"},
"mark":{"type":"text","baseline":"middle","fontSize":11,"color":"#2a3f5f","font":"Open Sans"},
"encoding":{
"x":{"field":"t","type":"temporal"},
"y":{"datum":13591,"type":"quantitative","scale":{"domain":[12652,13591],"nice":false,"zero":false},"axis":null},
"text":{"field":"label"}
}
},
{
"data":{"name":"candles"},
"mark":{"type":"rule","strokeWidth":1.5},
"encoding":{
"x":{"field":"t","type":"temporal"},
"y":{"field":"l","type":"quantitative","scale":{"domain":[12652,13591],"nice":false,"zero":false},"axis":null},
"y2":{"field":"h"},
"color":{"condition":{"test":"datum.c >= datum.o","value":"#FF0000"},"value":"#0000FF"}
}
},
{
"data":{"name":"candles"},
"mark":{"type":"bar","width":2,"strokeWidth":1},
"encoding":{
"x":{"field":"t","type":"temporal"},
"y":{"field":"o","type":"quantitative","scale":{"domain":[12652,13591],"nice":false,"zero":false},"axis":null},
"y2":{"field":"c"},
"color":{"condition":{"test":"datum.c >= datum.o","value":"#FF0000"},"value":"#0000FF"},
"stroke":{"condition":{"test":"datum.c >= datum.o","value":"#FF0000"},"value":"#0000FF"}
}
}
],
"resolve":{"scale":{"y":"independent"}}
},
{
"width":818,"height":120,
"layer":[
{
"data":{"name":"volume"},
"mark":{"type":"bar","width":1.2,"opacity":0.28},
"encoding":{
"x":{"field":"t","type":"temporal","scale":{"domain":[{"year":2023,"month":3,"date":6,"hours":8,"minutes":57,"seconds":36},{"year":2023,"month":3,"date":6,"hours":15,"minutes":30,"seconds":20}],"nice":false,"padding":0},"axis":null},
"y":{"field":"v","type":"quantitative","scale":{"domain":[0,51885],"nice":false,"zero":true},"axis":null},
"color":{"field":"dir","type":"nominal","scale":{"domain":["up","down"],"range":["#FF0000","#0000FF"]},"legend":null}
}
},
{
"data":{"name":"candles"},
"mark":{"type":"rule","strokeWidth":1},
"encoding":{
"x":{"field":"t","type":"temporal"},
"y":{"field":"l","type":"quantitative","scale":{"domain":[12652,13591],"nice":false,"zero":false},"axis":null},
"y2":{"field":"h"},
"color":{"condition":{"test":"datum.c >= datum.o","value":"#FF0000"},"value":"#0000FF"}
}
},
{
"data":{"name":"candles"},
"mark":{"type":"bar","width":1.5,"strokeWidth":0.6},
"encoding":{
"x":{"field":"t","type":"temporal"},
"y":{"field":"o","type":"quantitative","scale":{"domain":[12652,13591],"nice":false,"zero":false},"axis":null},
"y2":{"field":"c"},
"color":{"condition":{"test":"datum.c >= datum.o","value":"#FF0000"},"value":"#0000FF"},
"stroke":{"condition":{"test":"datum.c >= datum.o","value":"#FF0000"},"value":"#0000FF"}
}
}
],
"resolve":{"scale":{"y":"independent"}}
}
]
}
